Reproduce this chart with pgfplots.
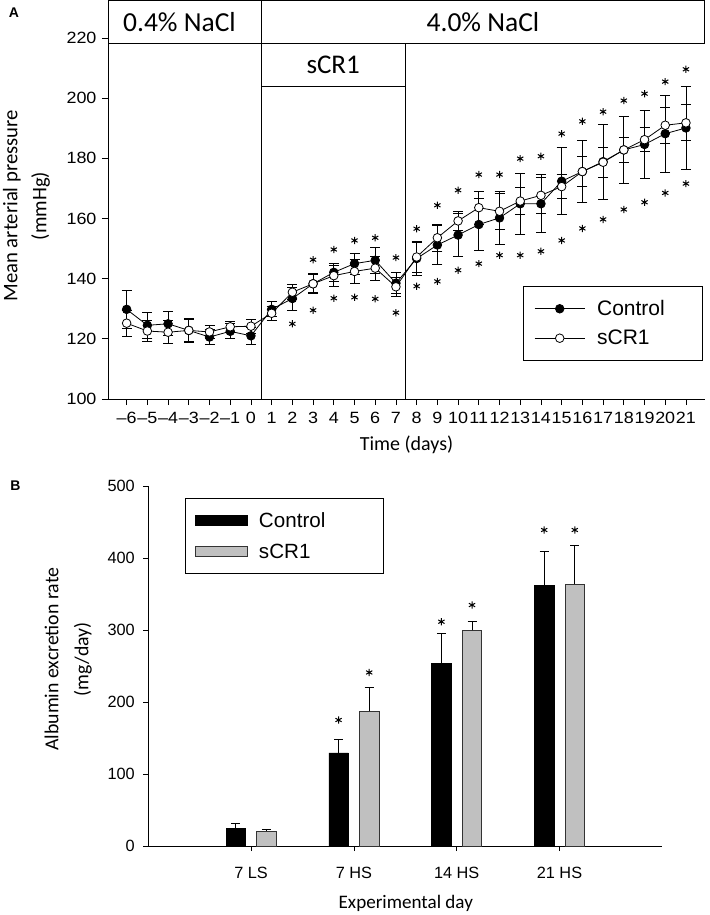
\documentclass[border=0pt]{standalone}
\usepackage{fontspec}
\usepackage{pgfplots}
\usepackage{pgfplotstable}
\pgfplotsset{compat=1.18}
\setmainfont{Liberation Sans}
\newfontfamily\carl{Carlito}
\newfontfamily\ari{Liberation Sans}
\newfontfamily\ariw[FakeStretch=1.1]{Liberation Sans}

\pgfplotstableread{
x c ce s se
-6 129.8 6.3 125.2 4.4
-5 124.5 4.3 122.6 3.5
-4 125.0 4.0 122.2 3.8
-3 122.8 3.5 122.8 3.9
-2 120.6 2.5 122.3 2.2
-1 122.5 2.5 124.0 1.7
0 121.0 2.7 124.2 2.4
1 129.8 2.5 128.5 2.4
2 133.4 3.8 135.5 2.5
3 138.3 3.0 138.3 3.3
4 142.1 3.0 141.0 3.5
5 145.0 3.5 142.4 4.0
6 146.1 4.3 143.5 4.0
7 138.5 3.5 137.3 3.2
8 146.7 5.5 147.2 5.2
9 151.2 6.5 153.6 4.5
10 154.5 7.2 159.2 3.0
11 158.0 8.6 163.6 5.5
12 160.2 8.8 162.4 6.0
13 164.9 10.2 165.8 4.5
14 164.9 9.6 167.7 6.0
15 172.4 11.2 170.6 4.0
16 175.6 10.3 175.6 5.0
17 178.9 12.5 178.7 5.0
18 182.8 11.0 182.8 4.0
19 184.6 11.3 186.2 4.0
20 188.2 12.8 191.0 6.0
21 190.1 13.7 191.8 6.0
}\mapdata

\pgfplotstableread{
x up lo
2 nan 125.0
3 146.3 129.5
4 149.7 133.5
5 152.7 133.8
6 153.6 133.3
7 147.0 128.7
8 156.6 137.5
9 164.4 139.1
10 169.4 142.8
11 174.6 145.0
12 174.6 147.8
13 179.9 147.8
14 180.7 149.1
15 188.2 152.7
16 192.3 156.7
17 195.5 159.7
18 199.2 163.0
19 201.5 165.4
20 205.5 168.5
21 209.6 171.6
}\mapstars

\pgfplotstableread{
xc c ce xs s se
-0.149 24.6 6.9 0.149 20.8 2.4
0.851 129.2 19.0 1.149 187.1 33.3
1.851 253.2 42.6 2.149 299.6 11.9
2.851 361.5 48.2 3.149 363.5 54.1
}\albdata

\pgfplotstableread{
x y
0.851 175.0
1.149 241.0
1.851 311.5
2.149 334.7
2.851 438.9
3.149 438.9
}\albstars

\begin{document}
\begin{tikzpicture}
\useasboundingbox (0pt,0pt) rectangle (709pt,-915pt);
\node[font=\ari\bfseries\fontsize{14}{14}\selectfont] at (14pt,-13pt) {A};
\node[font=\ari\bfseries\fontsize{14}{14}\selectfont] at (15.5pt,-486pt) {B};

% ---------------- Panel A ----------------
\begin{axis}[
  at={(108pt,-399pt)}, anchor=south west,
  scale only axis, width=597pt, height=361pt,
  xmin=-6.9, xmax=21.92, ymin=100, ymax=220,
  axis x line*=bottom, axis y line*=left,
  axis line style={line width=0.8pt},
  tick align=outside, major tick length=6pt,
  tick style={black, line width=0.8pt},
  xtick={-6,...,21},
  xticklabels={–6,–5,–4,–3,–2,–1,0,1,2,3,4,5,6,7,8,9,10,11,12,13,14,15,16,17,18,19,20,21},
  ytick={100,120,...,220},
  ticklabel style={font=\ariw\fontsize{16.3}{16.3}\selectfont},
  /pgf/number format/assume math mode=true,
  xticklabel style={yshift=-4pt, inner xsep=0pt},
  yticklabel style={xshift=-2pt},
  xlabel={Time (days)},
  xlabel style={font=\carl\fontsize{20}{20}\selectfont, at={(axis description cs:0.5,-0.128)}, anchor=center},
  ylabel={Mean arterial pressure\\(mmHg)},
  ylabel style={font=\carl\fontsize{20.7}{29}\selectfont, align=center, at={(axis description cs:-0.1365,0.535)}, anchor=center},
  clip=false,
  legend style={at={(rel axis cs:0.695,0.313)}, anchor=north west, draw=black, line width=0.8pt,
    font=\ari\fontsize{21}{21}\selectfont, inner xsep=11pt, inner ysep=12pt,
    row sep=9pt, cells={anchor=west},
    /tikz/every odd column/.append style={column sep=10pt}},
  legend image code/.code={\draw[#1, mark repeat=2, mark phase=2] plot coordinates {(0pt,0pt) (25pt,0pt) (50pt,0pt)};},
]
% phase boxes and separators
\draw[line width=0.8pt] (axis cs:0.5,100) -- (axis cs:0.5,232.4);
\draw[line width=0.8pt] (axis cs:7.45,100) -- (axis cs:7.45,218.3);
\draw[line width=0.8pt] (axis cs:-6.88,218.3) rectangle (axis cs:0.5,232.4);
\draw[line width=0.8pt] (axis cs:0.5,218.3) rectangle (axis cs:21.89,232.4);
\draw[line width=0.8pt] (axis cs:0.5,204.0) rectangle (axis cs:7.45,218.3);
\node[font=\carl\fontsize{27.5}{27.5}\selectfont, anchor=center] at (axis cs:-3.45,225.4) {0.4\% NaCl};
\node[font=\carl\fontsize{27.5}{27.5}\selectfont, anchor=center] at (axis cs:11.2,225.4) {4.0\% NaCl};
\node[font=\carl\fontsize{27}{27}\selectfont, anchor=center] at (axis cs:3.97,211.0) {sCR1};

\addplot[black, line width=0.8pt, mark=*, mark size=4.3pt,
  mark options={fill=black, solid, line width=0.8pt},
  error bars/.cd, y dir=both, y explicit,
  error bar style={line width=0.8pt},
  error mark options={rotate=90, mark size=5pt, line width=0.8pt}]
  table[x=x, y=c, y error=ce] {\mapdata};
\addlegendentry{\makebox[92pt][l]{Control}}
\addplot[black, line width=0.8pt, mark=*, mark size=4.3pt,
  mark options={fill=white, solid, line width=0.8pt},
  error bars/.cd, y dir=both, y explicit,
  error bar style={line width=0.8pt},
  error mark options={rotate=90, mark size=5pt, line width=0.8pt}]
  table[x=x, y=s, y error=se] {\mapdata};
\addlegendentry{\makebox[92pt][l]{sCR1}}
\addplot[forget plot, only marks, mark=asterisk, mark size=3.6pt, mark options={black, line width=1pt}]
  table[x=x, y=up] {\mapstars};
\addplot[forget plot, only marks, mark=asterisk, mark size=3.6pt, mark options={black, line width=1pt}]
  table[x=x, y=lo] {\mapstars};
\end{axis}

% ---------------- Panel B ----------------
\begin{axis}[
  at={(148.3pt,-846pt)}, anchor=south west,
  scale only axis, width=514pt, height=360pt,
  xmin=-1, xmax=4, ymin=0, ymax=500,
  axis x line*=bottom, axis y line*=left,
  axis line style={line width=0.8pt},
  tick align=outside, major tick length=5pt,
  tick style={black, line width=0.8pt},
  xtick={0,1,2,3},
  xticklabels={7 LS, 7 HS, 14 HS, 21 HS},
  ytick={0,100,...,500},
  ticklabel style={font=\ari\fontsize{16.3}{16.3}\selectfont},
  /pgf/number format/assume math mode=true,
  xticklabel style={yshift=-13pt},
  yticklabel style={xshift=-5pt},
  xlabel={Experimental day},
  xlabel style={font=\carl\fontsize{19.1}{19.1}\selectfont, at={(axis description cs:0.501,-0.1586)}, anchor=center},
  ylabel={Albumin excretion rate\\(mg/day)},
  ylabel style={font=\carl\fontsize{19.8}{30}\selectfont, align=center, at={(axis description cs:-0.156,0.519)}, anchor=center},
  clip=false,
  legend style={at={(rel axis cs:0.0714,0.967)}, anchor=north west, draw=black, line width=0.8pt,
    font=\ari\fontsize{20.6}{20.6}\selectfont, inner xsep=10pt, inner ysep=12pt,
    row sep=11pt, cells={anchor=west},
    /tikz/every odd column/.append style={column sep=9pt}},
  legend image code/.code={\draw[#1] (0pt,-5pt) rectangle (52pt,5pt);},
]
\addplot[ybar, bar width=19.4pt, bar shift=0pt, fill=black, draw=black, line width=0.6pt,
  error bars/.cd, y dir=plus, y explicit,
  error bar style={line width=0.8pt, black},
  error mark options={rotate=90, mark size=4.5pt, line width=0.8pt, black}]
  table[x=xc, y=c, y error=ce] {\albdata};
\addlegendentry{\makebox[112pt][l]{Control}}
\addplot[ybar, bar width=19.4pt, bar shift=0pt, fill={rgb,255:red,192;green,192;blue,192}, draw=black!80, line width=0.6pt,
  error bars/.cd, y dir=plus, y explicit,
  error bar style={line width=0.8pt, black},
  error mark options={rotate=90, mark size=4.5pt, line width=0.8pt, black}]
  table[x=xs, y=s, y error=se] {\albdata};
\addlegendentry{\makebox[112pt][l]{sCR1}}
\addplot[forget plot, only marks, mark=asterisk, mark size=3.6pt, mark options={black, line width=1pt}]
  table[x=x, y=y] {\albstars};
\end{axis}
\end{tikzpicture}
\end{document}
